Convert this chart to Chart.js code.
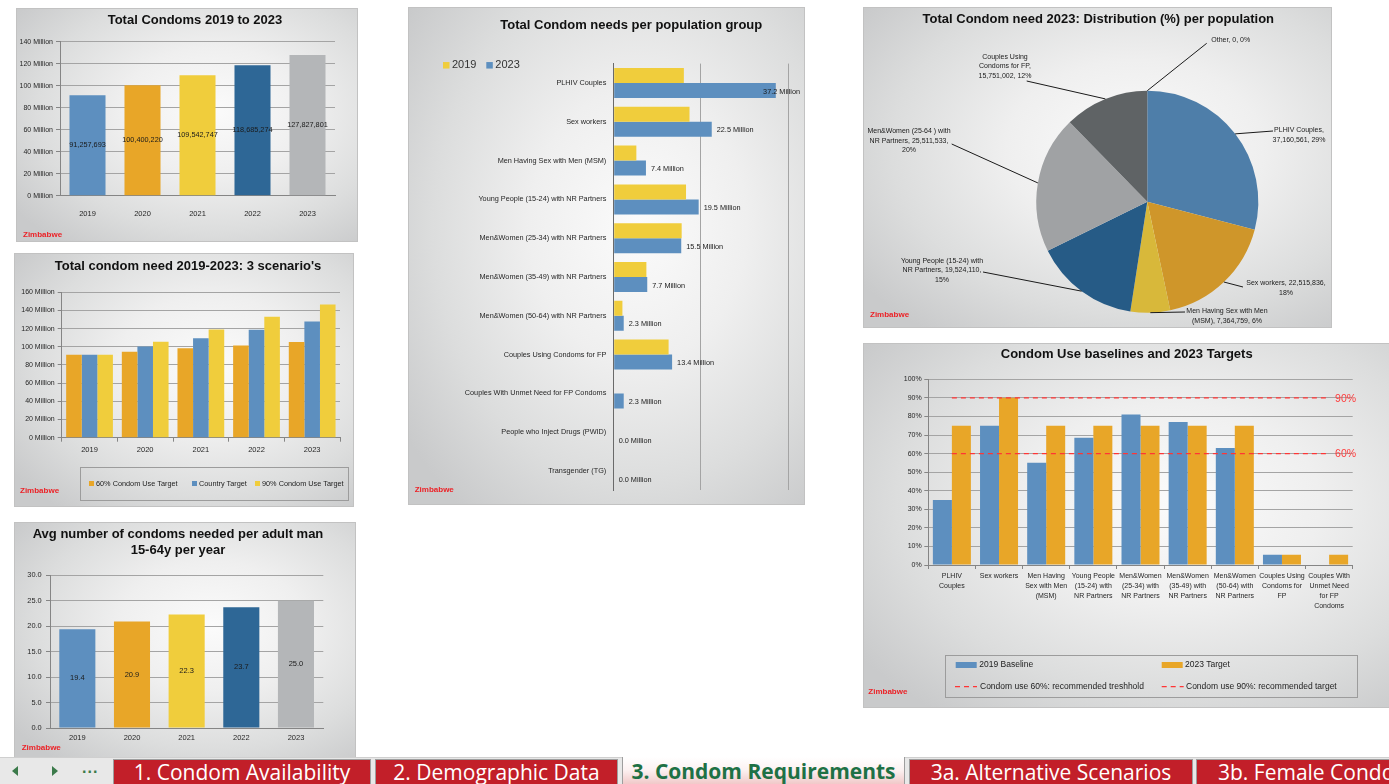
<!DOCTYPE html>
<html>
<head>
<meta charset="utf-8">
<script src="https://cdn.jsdelivr.net/npm/chart.js"></script>
<style>
html,body{margin:0;padding:0;background:#ffffff;width:1389px;height:784px;overflow:hidden;position:relative;}
.panel{position:absolute;box-sizing:border-box;overflow:hidden;
  background:radial-gradient(ellipse 72% 72% at 58% 44%,#fbfbfb 0%,#efefef 38%,#dcdddd 72%,#c9cacb 100%);
  box-shadow:inset 0 0 0 1px #c2c2c2;}
.panel canvas{position:absolute;left:0;top:0;}
#tabbar{position:absolute;left:0;top:757px;width:1389px;height:27px;background:#e8e8e8;border-top:1px solid #cfcfcf;box-sizing:border-box;z-index:5;}
.tab{position:absolute;top:1px;height:26px;box-sizing:border-box;background:#c21f29;color:#ffffff;
  font-family:'Open Sans','Noto Sans',sans-serif;font-size:21px;line-height:25px;text-align:center;white-space:nowrap;overflow:hidden;
  border-left:1px solid #9e9e9e;border-right:1px solid #9e9e9e;border-top:1px solid #9e9e9e;}
.tab.active{top:-1px;height:28px;background:linear-gradient(to bottom,#ffffff 0%,#fcf2f2 45%,#f0c6c6 100%);color:#1e7145;font-weight:bold;border-top:none;line-height:28px;}
.tri{position:absolute;width:0;height:0;border-top:5px solid transparent;border-bottom:5px solid transparent;}
.dots{position:absolute;left:82px;top:1px;font-family:'Liberation Sans',Arial,sans-serif;font-weight:bold;font-size:16px;color:#3b7a4a;letter-spacing:1px;}
</style>
</head>
<body>
<div id="tabbar">
  <div class="tri" style="left:12px;top:8px;border-right:6px solid #3b7a4a;"></div>
  <div class="tri" style="left:52px;top:8px;border-left:6px solid #3b7a4a;"></div>
  <div class="dots">...</div>
  <div class="tab" style="left:113px;width:258px;">1. Condom Availability</div>
  <div class="tab" style="left:375px;width:243px;">2. Demographic Data</div>
  <div class="tab active" style="left:622px;width:283px;">3. Condom Requirements</div>
  <div class="tab" style="left:909px;width:284px;">3a. Alternative Scenarios</div>
  <div class="tab" style="left:1196px;width:230px;text-align:left;padding-left:21px;">3b. Female Condoms</div>
</div>
<script>
// ---------------- data ----------------
const years = ['2019', '2020', '2021', '2022', '2023'];
const totalCondoms = [91257693, 100400220, 109542747, 118685274, 127827801];

const scenarioNames = ['60% Condom Use Target', 'Country Target', '90% Condom Use Target'];
const scenario60 = [91.26, 94.5, 98.3, 101.5, 105.3];          // million
const scenarioCountry = [91.26, 100.40, 109.54, 118.69, 127.83]; // million
const scenario90 = [91.26, 105.5, 119.0, 133.2, 146.7];         // million

const avgPerMan = [19.4, 20.9, 22.3, 23.7, 25.0];

const popGroups = ['PLHIV Couples', 'Sex workers', 'Men Having Sex with Men (MSM)',
  'Young People (15-24) with NR Partners', 'Men&Women (25-34) with NR Partners',
  'Men&Women (35-49) with NR Partners', 'Men&Women (50-64) with NR Partners',
  'Couples Using Condoms for FP', 'Couples With Unmet Need for FP Condoms',
  'People who Inject Drugs (PWID)', 'Transgender (TG)'];
const needs2019 = [16.1, 17.4, 5.2, 16.6, 15.6, 7.5, 2.0, 12.6, 0, 0, 0];   // million
const needs2023 = [37.2, 22.5, 7.4, 19.5, 15.5, 7.7, 2.3, 13.4, 2.3, 0, 0]; // million

const pieGroups = ['PLHIV Couples', 'Sex workers', 'Men Having Sex with Men (MSM)',
  'Young People (15-24) with NR Partners', 'Men&Women (25-64 ) with NR Partners',
  'Couples Using Condoms for FP', 'Other'];
const pieValues = [37160561, 22515836, 7364759, 19524110, 25511533, 15751002, 0];

const useGroups = [['PLHIV', 'Couples'], ['Sex workers'], ['Men Having', 'Sex with Men', '(MSM)'],
  ['Young People', '(15-24) with', 'NR Partners'], ['Men&Women', '(25-34) with', 'NR Partners'],
  ['Men&Women', '(35-49) with', 'NR Partners'], ['Men&Women', '(50-64) with', 'NR Partners'],
  ['Couples Using', 'Condoms for', 'FP'], ['Couples With', 'Unmet Need', 'for FP', 'Condoms']];
const baseline2019 = [35, 75, 55, 68.5, 81, 77, 63, 5.5, 0];
const target2023 = [75, 90, 75, 75, 75, 75, 75, 5.5, 5.5];
const threshold60 = [60, 60, 60, 60, 60, 60, 60, 60, 60];
const target90 = [90, 90, 90, 90, 90, 90, 90, 90, 90];

// ---------------- styles ----------------
const SANS = "'Liberation Sans',Arial,sans-serif";
const GRID = '#a4a4a4', AXIS = '#858585', TICK = '#262626';
const TITLE_FONT = 'bold 13px ' + SANS;
const ZIM_FONT = 'bold 8px ' + SANS;
const ZIM = '#ec2227';
const C_BLUE = '#5d8fbf', C_ORANGE = '#e8a628', C_YELLOW = '#f0cd3c', C_DBLUE = '#2e6796', C_GRAY = '#b4b6b8';
const yearColors = [C_BLUE, C_ORANGE, C_YELLOW, C_DBLUE, C_GRAY];
const pieColors = ['#4e7ea9', '#cf962a', '#d8b83a', '#265b86', '#a0a2a4', '#5f6365', '#888888'];
Chart.defaults.font.family = SANS;
Chart.defaults.color = TICK;

// ---------------- helpers ----------------
function mk(left, top, w, h) {
  const d = document.createElement('div');
  d.className = 'panel';
  d.style.cssText = `left:${left}px;top:${top}px;width:${w}px;height:${h}px;`;
  const c = document.createElement('canvas');
  c.width = w; c.height = h; c.style.width = w + 'px'; c.style.height = h + 'px';
  d.appendChild(c); document.body.appendChild(d);
  return c;
}
function fixW(w) { return s => { s.width = w; }; }
function fixH(h) { return s => { s.height = h; }; }
function textLayer(items) {
  return { id: 'textLayer', afterDraw(chart) {
    const ctx = chart.ctx;
    items.forEach(t => {
      ctx.save(); ctx.font = t.font; ctx.fillStyle = t.color || '#111';
      ctx.textAlign = t.align || 'center'; ctx.textBaseline = 'middle';
      ctx.fillText(t.text, t.x, t.y); ctx.restore();
    });
  } };
}
function centerLabels(dsIndex, fmt, font) {
  return { id: 'centerLabels', afterDatasetsDraw(chart) {
    const ctx = chart.ctx, meta = chart.getDatasetMeta(dsIndex), data = chart.data.datasets[dsIndex].data;
    ctx.save(); ctx.font = font; ctx.fillStyle = '#1a1a1a'; ctx.textAlign = 'center'; ctx.textBaseline = 'middle';
    meta.data.forEach((el, i) => ctx.fillText(fmt(data[i]), el.x, (el.y + el.base) / 2));
    ctx.restore();
  } };
}
function endLabels(dsIndex, fmt, font, offset, maxRight) {
  return { id: 'endLabels', afterDatasetsDraw(chart) {
    const ctx = chart.ctx, meta = chart.getDatasetMeta(dsIndex), data = chart.data.datasets[dsIndex].data;
    ctx.save(); ctx.font = font; ctx.fillStyle = '#1a1a1a'; ctx.textAlign = 'left'; ctx.textBaseline = 'middle';
    meta.data.forEach((el, i) => {
      const t = fmt(data[i]); const w = ctx.measureText(t).width;
      let x = el.x + offset; if (x + w > maxRight) x = maxRight - w;
      ctx.fillText(t, x, el.y + 1);
    });
    ctx.restore();
  } };
}
function legendLayer(cfg) {
  return { id: 'legendLayer', afterDraw(chart) {
    const ctx = chart.ctx; ctx.save();
    if (cfg.box) { ctx.strokeStyle = '#9c9c9c'; ctx.lineWidth = 1;
      ctx.strokeRect(cfg.box[0] + 0.5, cfg.box[1] + 0.5, cfg.box[2], cfg.box[3]); }
    cfg.items.forEach(it => {
      const ds = chart.data.datasets[it.ds];
      if (it.dashed) {
        ctx.strokeStyle = ds.borderColor; ctx.lineWidth = ds.borderWidth; ctx.setLineDash(ds.borderDash);
        ctx.beginPath(); ctx.moveTo(it.x, it.y); ctx.lineTo(it.x + it.sw, it.y); ctx.stroke(); ctx.setLineDash([]);
      } else {
        ctx.fillStyle = ds.backgroundColor; ctx.fillRect(it.x, it.y - it.sh / 2, it.sw, it.sh);
      }
      ctx.fillStyle = cfg.color || '#222'; ctx.font = cfg.font; ctx.textAlign = 'left'; ctx.textBaseline = 'middle';
      ctx.fillText(ds.label, it.tx, it.y);
    });
    ctx.restore();
  } };
}
function wrap(ctx, text, maxW) {
  const words = text.split(' '); const lines = []; let cur = '';
  words.forEach(w => {
    const test = cur ? cur + ' ' + w : w;
    if (cur && ctx.measureText(test).width > maxW) { lines.push(cur); cur = w; } else cur = test;
  });
  if (cur) lines.push(cur);
  return lines;
}
function pieLabels(pos, font, lineH) {
  return { id: 'pieLabels', afterDatasetsDraw(chart) {
    const ctx = chart.ctx, meta = chart.getDatasetMeta(0), ds = chart.data.datasets[0];
    const total = ds.data.reduce((a, b) => a + b, 0);
    ctx.save(); ctx.font = font;
    meta.data.forEach((arc, i) => {
      const p = pos[i]; const v = ds.data[i];
      const mid = (arc.startAngle + arc.endAngle) / 2;
      const ax = arc.x + Math.cos(mid) * arc.outerRadius, ay = arc.y + Math.sin(mid) * arc.outerRadius;
      ctx.strokeStyle = '#1a1a1a'; ctx.lineWidth = 1;
      ctx.beginPath(); ctx.moveTo(ax, ay); ctx.lineTo(p.lx, p.ly); ctx.stroke();
      const txt = `${chart.data.labels[i]}, ${v.toLocaleString('en-US')}, ${Math.round(v / total * 100)}%`;
      const lines = wrap(ctx, txt, p.w);
      ctx.fillStyle = '#1a1a1a'; ctx.textAlign = 'center'; ctx.textBaseline = 'middle';
      lines.forEach((l, k) => ctx.fillText(l, p.x, p.y + k * lineH));
    });
    ctx.restore();
  } };
}
function lineEndLabels(dsIdxs, font, color, dx) {
  return { id: 'lineEndLabels', afterDatasetsDraw(chart) {
    const ctx = chart.ctx; ctx.save(); ctx.font = font; ctx.fillStyle = color; ctx.textAlign = 'left'; ctx.textBaseline = 'middle';
    dsIdxs.forEach(d => {
      const meta = chart.getDatasetMeta(d), data = chart.data.datasets[d].data;
      const n = data.length - 1; const pt = meta.data[n];
      ctx.fillText(data[n] + '%', pt.x + dx, pt.y + 1);
    });
    ctx.restore();
  } };
}
const base = { responsive: false, animation: false, devicePixelRatio: 1,
  plugins: { legend: { display: false }, tooltip: { enabled: false } } };
const tickFont = { family: SANS, size: 7 };

// ---------------- Chart A ----------------
(function () {
  const c = mk(16, 8, 342, 234);
  new Chart(c, {
    type: 'bar',
    data: { labels: years, datasets: [{ label: 'Total Condoms', data: totalCondoms, backgroundColor: yearColors,
      categoryPercentage: 1, barPercentage: 0.655 }] },
    options: Object.assign({}, base, {
      layout: { padding: { left: 0, right: 23, top: 33.7, bottom: 0 } },
      scales: {
        x: { grid: { display: false, drawTicks: false }, border: { color: AXIS },
          ticks: { padding: 13.5, font: { family: SANS, size: 7.5 } }, afterFit: fixH(46.3) },
        y: { min: 0, max: 140e6, ticks: { stepSize: 20e6, callback: v => (v / 1e6) + ' Million', padding: 3, font: tickFont },
          grid: { color: GRID, tickLength: 4, tickColor: AXIS }, border: { color: AXIS }, afterFit: fixW(44) }
      }
    }),
    plugins: [centerLabels(0, v => v.toLocaleString('en-US'), '7.3px ' + SANS),
      textLayer([{ text: 'Total Condoms 2019 to 2023', x: 179, y: 12.5, font: TITLE_FONT },
        { text: 'Zimbabwe', x: 7, y: 227, font: ZIM_FONT, color: ZIM, align: 'left' }])]
  });
})();

// ---------------- Chart B ----------------
(function () {
  const c = mk(14, 253, 340, 254);
  new Chart(c, {
    type: 'bar',
    data: { labels: years, datasets: [
      { label: scenarioNames[0], data: scenario60, backgroundColor: C_ORANGE },
      { label: scenarioNames[1], data: scenarioCountry, backgroundColor: C_BLUE },
      { label: scenarioNames[2], data: scenario90, backgroundColor: C_YELLOW }] },
    options: Object.assign({}, base, {
      datasets: { bar: { categoryPercentage: 0.84, barPercentage: 1 } },
      layout: { padding: { left: 0, right: 14, top: 39.3, bottom: 0 } },
      scales: {
        x: { grid: { display: true, offset: true, drawOnChartArea: false, drawTicks: true, tickLength: 4, color: AXIS },
          border: { color: AXIS }, ticks: { padding: 3.5, font: { family: SANS, size: 7.5 } }, afterFit: fixH(69.3) },
        y: { min: 0, max: 160, ticks: { stepSize: 20, callback: v => v + ' Million', padding: 3, font: tickFont },
          grid: { color: GRID, tickLength: 4, tickColor: AXIS }, border: { color: AXIS }, afterFit: fixW(47.7) }
      }
    }),
    plugins: [legendLayer({ box: [66, 214, 268, 33], font: '7.3px ' + SANS, color: '#222', items: [
        { ds: 0, x: 75, y: 230.5, sw: 5, sh: 5, tx: 82 },
        { ds: 1, x: 178, y: 230.5, sw: 5, sh: 5, tx: 185 },
        { ds: 2, x: 241, y: 230.5, sw: 5, sh: 5, tx: 248 }] }),
      textLayer([{ text: "Total condom need 2019-2023: 3 scenario's", x: 174, y: 13.5, font: TITLE_FONT },
        { text: 'Zimbabwe', x: 6, y: 238, font: ZIM_FONT, color: ZIM, align: 'left' }])]
  });
})();

// ---------------- Chart C ----------------
(function () {
  const c = mk(14, 522, 342, 238);
  new Chart(c, {
    type: 'bar',
    data: { labels: years, datasets: [{ label: 'Avg condoms per adult man', data: avgPerMan, backgroundColor: yearColors,
      categoryPercentage: 1, barPercentage: 0.66 }] },
    options: Object.assign({}, base, {
      layout: { padding: { left: 0, right: 32.7, top: 53.3, bottom: 0 } },
      scales: {
        x: { grid: { display: false, drawTicks: false }, border: { color: AXIS },
          ticks: { padding: 5.5, font: { family: SANS, size: 7.5 } }, afterFit: fixH(32) },
        y: { min: 0, max: 30, ticks: { stepSize: 5, callback: v => v.toFixed(1), padding: 4.3, font: { family: SANS, size: 7.4 } },
          grid: { color: GRID, tickLength: 4, tickColor: AXIS }, border: { color: AXIS }, afterFit: fixW(36) }
      }
    }),
    plugins: [centerLabels(0, v => v.toFixed(1), '7.5px ' + SANS),
      textLayer([{ text: 'Avg number of condoms needed per adult man', x: 164, y: 12.7, font: TITLE_FONT },
        { text: '15-64y per year', x: 164, y: 28.3, font: TITLE_FONT },
        { text: 'Zimbabwe', x: 7.7, y: 226, font: ZIM_FONT, color: ZIM, align: 'left' }])]
  });
})();

// ---------------- Chart D ----------------
(function () {
  const c = mk(408, 7, 397, 498);
  new Chart(c, {
    type: 'bar',
    data: { labels: popGroups, datasets: [
      { label: '2019', data: needs2019, backgroundColor: C_YELLOW },
      { label: '2023', data: needs2023, backgroundColor: C_BLUE }] },
    options: Object.assign({}, base, {
      indexAxis: 'y',
      datasets: { bar: { categoryPercentage: 0.773, barPercentage: 1 } },
      layout: { padding: { left: 0, right: 17, top: 56.6, bottom: 0 } },
      scales: {
        x: { min: 0, max: 40, ticks: { display: false, stepSize: 20 }, grid: { color: GRID, drawTicks: false },
          border: { display: false }, afterFit: fixH(14.6) },
        y: { grid: { display: false, drawTicks: false }, border: { color: '#6a6a6a' },
          ticks: { padding: 7.4, font: { family: SANS, size: 7.3 } }, afterFit: fixW(205.7) }
      }
    }),
    plugins: [endLabels(1, v => v.toFixed(1) + ' Million', '7.3px ' + SANS, 5, 392),
      legendLayer({ box: null, font: '11px ' + SANS, color: '#333', items: [
        { ds: 0, x: 35, y: 58.3, sw: 6.5, sh: 6.5, tx: 44 },
        { ds: 1, x: 78.3, y: 58.3, sw: 6.5, sh: 6.5, tx: 87.3 }] }),
      textLayer([{ text: 'Total Condom needs per population group', x: 223.3, y: 18.7, font: TITLE_FONT },
        { text: 'Zimbabwe', x: 6.7, y: 483, font: ZIM_FONT, color: ZIM, align: 'left' }])]
  });
})();

// ---------------- Chart E (pie) ----------------
(function () {
  const c = mk(863, 7, 469, 321);
  const pos = [
    { x: 436, y: 123, w: 60, lx: 410, ly: 124 },
    { x: 423, y: 276.3, w: 86, lx: 380, ly: 280 },
    { x: 364, y: 304, w: 88, lx: 322, ly: 305 },
    { x: 79, y: 253.7, w: 88, lx: 120, ly: 265 },
    { x: 46, y: 124, w: 90, lx: 88.7, ly: 137 },
    { x: 142, y: 49.7, w: 58, lx: 163.7, ly: 74 },
    { x: 367.7, y: 33, w: 80, lx: 343.7, ly: 36.3 }];
  new Chart(c, {
    type: 'pie',
    data: { labels: pieGroups, datasets: [{ data: pieValues, backgroundColor: pieColors, borderWidth: 0 }] },
    options: Object.assign({}, base, {
      layout: { padding: { left: 173.3, right: 73.7, top: 83.7, bottom: 15.3 } }
    }),
    plugins: [pieLabels(pos, '7px ' + SANS, 9.7),
      textLayer([{ text: 'Total Condom need 2023: Distribution (%) per population', x: 235.3, y: 12, font: TITLE_FONT },
        { text: 'Zimbabwe', x: 7, y: 307.3, font: ZIM_FONT, color: ZIM, align: 'left' }])]
  });
})();

// ---------------- Chart F ----------------
(function () {
  const c = mk(863, 343, 535, 365);
  new Chart(c, {
    type: 'bar',
    data: { labels: useGroups, datasets: [
      { label: '2019 Baseline', data: baseline2019, backgroundColor: C_BLUE, categoryPercentage: 0.806, barPercentage: 1, order: 2 },
      { label: '2023 Target', data: target2023, backgroundColor: C_ORANGE, categoryPercentage: 0.806, barPercentage: 1, order: 2 },
      { type: 'line', label: 'Condom use 60%: recommended treshhold', data: threshold60, borderColor: '#ff3535',
        borderWidth: 1.3, borderDash: [5, 4], pointRadius: 0, fill: false, order: 1 },
      { type: 'line', label: 'Condom use 90%: recommended target', data: target90, borderColor: '#ff3535',
        borderWidth: 1.3, borderDash: [5, 4], pointRadius: 0, fill: false, order: 1 }] },
    options: Object.assign({}, base, {
      layout: { padding: { left: 0, right: 45.3, top: 36.3, bottom: 0 } },
      scales: {
        x: { grid: { display: true, offset: true, drawOnChartArea: false, drawTicks: true, tickLength: 4, color: AXIS },
          border: { color: AXIS }, ticks: { padding: 2, maxRotation: 0, autoSkip: false, font: { family: SANS, size: 7, lineHeight: 1.43 } },
          afterFit: fixH(143) },
        y: { min: 0, max: 100, ticks: { stepSize: 10, callback: v => v + '%', padding: 2.6, font: tickFont },
          grid: { color: GRID, tickLength: 4, tickColor: AXIS }, border: { color: AXIS }, afterFit: fixW(65.3) }
      }
    }),
    plugins: [lineEndLabels([3, 2], '10.5px ' + SANS, '#ff3b3b', 6),
      legendLayer({ box: [82, 312, 412, 42], font: '8.5px ' + SANS, color: '#222', items: [
        { ds: 0, x: 92.7, y: 322, sw: 21, sh: 6, tx: 116.3 },
        { ds: 1, x: 298.7, y: 322, sw: 21, sh: 6, tx: 322 },
        { ds: 2, x: 92, y: 343.7, sw: 22, dashed: true, tx: 117 },
        { ds: 3, x: 298.7, y: 343.7, sw: 22, dashed: true, tx: 323 }] }),
      textLayer([{ text: 'Condom Use baselines and 2023 Targets', x: 263.7, y: 11.5, font: TITLE_FONT },
        { text: 'Zimbabwe', x: 5.3, y: 348.7, font: ZIM_FONT, color: ZIM, align: 'left' }])]
  });
})();
</script>
</body>
</html>
